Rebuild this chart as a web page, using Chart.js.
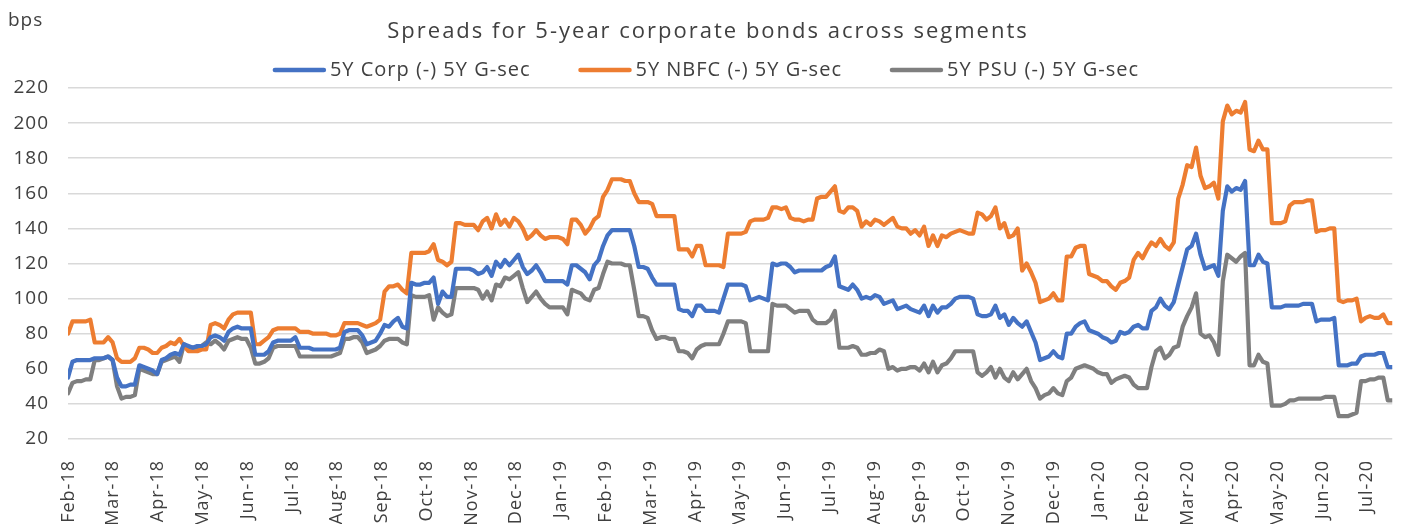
<!DOCTYPE html>
<html>
<head>
<meta charset="utf-8">
<script src="https://cdn.jsdelivr.net/npm/chart.js@4.4.1/dist/chart.umd.min.js"></script>
<style>
  html, body { margin: 0; padding: 0; background: #fff; }
  #wrap { width: 1402px; height: 524px; }
</style>
</head>
<body>
<div id="wrap"><canvas id="myChart" width="1402" height="524"></canvas></div>
<script>
// month tick labels, one every ~10 points
const monthLabels = [
  "Feb-18","Mar-18","Apr-18","May-18","Jun-18","Jul-18","Aug-18","Sep-18","Oct-18","Nov-18",
  "Dec-18","Jan-19","Feb-19","Mar-19","Apr-19","May-19","Jun-19","Jul-19","Aug-19","Sep-19",
  "Oct-19","Nov-19","Dec-19","Jan-20","Feb-20","Mar-20","Apr-20","May-20","Jun-20","Jul-20"
];

// spreads in bps (about 10 points per month)
const corpSpread = [
  55,64,65,65,65,65,66,66,66,67, 65,55,50,50,51,51,62,61,60,59,
  57,65,66,68,69,68,74,73,72,73, 73,74,78,79,78,76,81,83,84,83,
  83,83,68,68,68,70,75,76,76,76, 76,78,72,72,72,71,71,71,71,71,
  71,72,81,82,82,82,79,74,75,76, 80,85,84,87,89,84,83,109,108,108,
  109,109,112,97,104,101,101,117,117,117, 117,116,114,115,118,113,121,118,122,119,
  122,125,118,114,116,119,115,110,110,110, 110,110,108,119,119,117,115,111,119,122,
  130,136,139,139,139,139,139,130,118,118, 117,112,108,108,108,108,108,94,93,93,
  90,96,96,93,93,93,92,100,108,108, 108,108,107,99,100,101,100,99,120,119,
  120,120,118,115,116,116,116,116,116,116, 118,119,124,107,106,105,108,105,100,101,
  100,102,101,97,98,99,94,95,96,94, 93,92,96,90,96,92,95,95,97,100,
  101,101,101,100,91,90,90,91,96,89, 91,85,89,86,84,87,81,75,65,66,
  67,70,67,66,80,80,84,86,87,82, 81,80,78,77,75,76,81,80,81,84,
  85,83,83,93,95,100,96,94,98,108, 118,128,130,137,125,117,118,119,113,150,
  164,161,163,162,167,119,119,125,121,120, 95,95,95,96,96,96,96,97,97,97,
  87,88,88,88,89,62,62,62,63,63, 67,68,68,68,69,69,61,61
];
const nbfcSpread = [
  80,87,87,87,87,88,75,75,75,78, 75,66,64,64,64,66,72,72,71,69,
  69,72,73,75,74,77,73,70,70,70, 71,71,85,86,85,83,88,91,92,92,
  92,92,74,74,76,78,82,83,83,83, 83,83,81,81,81,80,80,80,80,79,
  79,80,86,86,86,86,85,84,85,86, 88,104,107,107,108,105,103,126,126,126,
  126,127,131,122,121,119,121,143,143,142, 142,142,139,144,146,140,148,142,145,141,
  146,144,140,134,136,139,136,134,135,135, 135,134,131,145,145,142,137,140,145,147,
  158,162,168,168,168,167,167,160,155,155, 155,154,147,147,147,147,147,128,128,128,
  124,130,130,119,119,119,119,118,137,137, 137,137,138,144,145,145,145,146,152,152,
  151,152,146,145,145,144,145,145,157,158, 158,161,164,150,149,152,152,150,141,144,
  142,145,144,142,144,146,141,140,140,137, 139,136,141,130,136,130,136,135,137,138,
  139,138,137,137,149,148,145,147,152,140, 143,135,136,140,116,120,115,109,98,99,
  100,103,99,99,124,124,129,130,130,114, 113,112,110,110,107,105,109,110,112,122,
  126,123,128,132,130,134,130,128,132,157, 165,176,175,186,170,163,164,166,157,201,
  210,205,207,206,212,185,184,190,185,185, 143,143,143,144,153,155,155,155,156,156,
  138,139,139,140,140,99,98,99,99,100, 87,89,90,89,89,91,86,86
];
const psuSpread = [
  46,52,53,53,54,54,65,65,66,67, 65,50,43,44,44,45,60,59,58,57,
  57,64,65,66,67,64,74,72,72,72, 73,75,74,76,74,71,76,77,78,77,
  77,72,63,63,64,66,72,73,73,73, 73,73,67,67,67,67,67,67,67,67,
  68,69,77,77,78,78,75,69,70,71, 73,76,77,77,77,75,74,102,101,101,
  101,102,88,95,92,90,91,106,106,106, 106,106,105,100,104,99,108,107,112,111,
  113,115,106,98,101,104,100,97,95,95, 95,95,91,105,104,103,100,99,105,106,
  114,121,120,120,120,119,119,105,90,90, 89,82,77,78,78,77,77,70,70,69,
  66,71,73,74,74,74,74,80,87,87, 87,87,86,70,70,70,70,70,97,96,
  96,96,94,92,93,93,93,88,86,86, 86,88,93,72,72,72,73,72,68,68,
  69,69,71,70,60,61,59,60,60,61, 61,59,63,58,64,58,62,63,66,70,
  70,70,70,70,58,56,58,61,55,60, 55,53,58,54,57,60,53,49,43,45,
  46,49,46,45,53,55,60,61,62,61, 60,58,57,57,52,54,55,56,55,51,
  49,49,49,61,70,72,66,68,72,73, 84,90,95,103,80,78,79,75,68,110,
  125,123,121,124,126,62,62,68,64,63, 39,39,39,40,42,42,43,43,43,43,
  43,43,44,44,44,33,33,33,34,35, 53,53,54,54,55,55,42,42
];

const seriesNames = ["5Y Corp (-) 5Y G-sec", "5Y NBFC (-) 5Y G-sec", "5Y PSU (-) 5Y G-sec"];
const seriesColors = ["#4472C4", "#ED7D31", "#7F7F7F"];
const chartTitle = "Spreads for 5-year corporate bonds across segments";
const textColor = "#404040";
const fontFamily = '"Open Sans", sans-serif';

function toPoints(arr) {
  return arr.map((v, i) => ({x: i, y: v}));
}

// wider letter spacing for the axis labels, like the original font
const spacing = {
  id: 'spacing',
  beforeDraw(chart) {
    chart.ctx.letterSpacing = '1px';
  }
};

// title, legend line and "bps" label drawn above the plot
const topText = {
  id: 'topText',
  afterDraw(chart) {
    const ctx = chart.ctx;
    ctx.save();
    ctx.fillStyle = textColor;
    ctx.textBaseline = 'middle';

    ctx.letterSpacing = '2px';
    ctx.font = '22px ' + fontFamily;
    ctx.textAlign = 'center';
    ctx.fillText(chartTitle, 708, 32);

    ctx.letterSpacing = '1px';
    ctx.font = '20px ' + fontFamily;
    ctx.textAlign = 'left';
    const items = chart.data.datasets.map(ds => ({
      label: ds.label, color: ds.borderColor, w: ctx.measureText(ds.label).width
    }));
    const swatch = 53, gapText = 4, gapItem = 48;
    let total = gapItem * (items.length - 1);
    items.forEach(it => total += swatch + gapText + it.w);
    let x = 706 - total / 2;
    const y = 70;
    items.forEach(it => {
      ctx.strokeStyle = it.color;
      ctx.lineWidth = 4.5;
      ctx.lineCap = 'round';
      ctx.beginPath();
      ctx.moveTo(x + 2, y);
      ctx.lineTo(x + swatch - 2, y);
      ctx.stroke();
      x += swatch + gapText;
      ctx.fillText(it.label, x, y);
      x += it.w + gapItem;
    });

    ctx.letterSpacing = '1px';
    ctx.font = '19px ' + fontFamily;
    ctx.fillText('bps', 8, 21);
    ctx.restore();
  }
};

const data = {
  datasets: [
    { label: seriesNames[0], data: toPoints(corpSpread), borderColor: seriesColors[0] },
    { label: seriesNames[1], data: toPoints(nbfcSpread), borderColor: seriesColors[1] },
    { label: seriesNames[2], data: toPoints(psuSpread), borderColor: seriesColors[2] }
  ]
};

const config = {
  type: 'line',
  data: data,
  options: {
    responsive: false,
    animation: false,
    devicePixelRatio: 1,
    layout: { padding: { left: 0, right: 5, top: 88, bottom: 0 } },
    elements: {
      line: { borderWidth: 4.2, tension: 0, borderJoinStyle: 'round', borderCapStyle: 'round' },
      point: { radius: 0 }
    },
    plugins: {
      legend: { display: false },
      tooltip: { enabled: false },
      title: { display: false }
    },
    scales: {
      x: {
        type: 'linear',
        min: 0,
        max: corpSpread.length - 1,
        grid: { display: false },
        border: { display: false },
        afterBuildTicks: (scale) => {
          // labels sit every 45px starting at the first point
          scale.ticks = monthLabels.map((_, m) => ({ value: (45 * m + 0.5) / 4.48 }));
        },
        afterFit: (scale) => { scale.height = 85; },
        ticks: {
          autoSkip: false,
          minRotation: 90,
          maxRotation: 90,
          padding: 13,
          color: textColor,
          font: { family: fontFamily, size: 18 },
          callback: (v, i) => monthLabels[i]
        }
      },
      y: {
        min: 20,
        max: 220,
        grid: { color: '#d9d9d9', lineWidth: 1.5, drawTicks: false },
        border: { display: false },
        afterFit: (scale) => { scale.width = 68; },
        ticks: {
          stepSize: 20,
          padding: 19,
          color: textColor,
          font: { family: fontFamily, size: 19 }
        }
      }
    }
  },
  plugins: [spacing, topText]
};

const myChart = new Chart(document.getElementById('myChart'), config);
</script>
</body>
</html>
